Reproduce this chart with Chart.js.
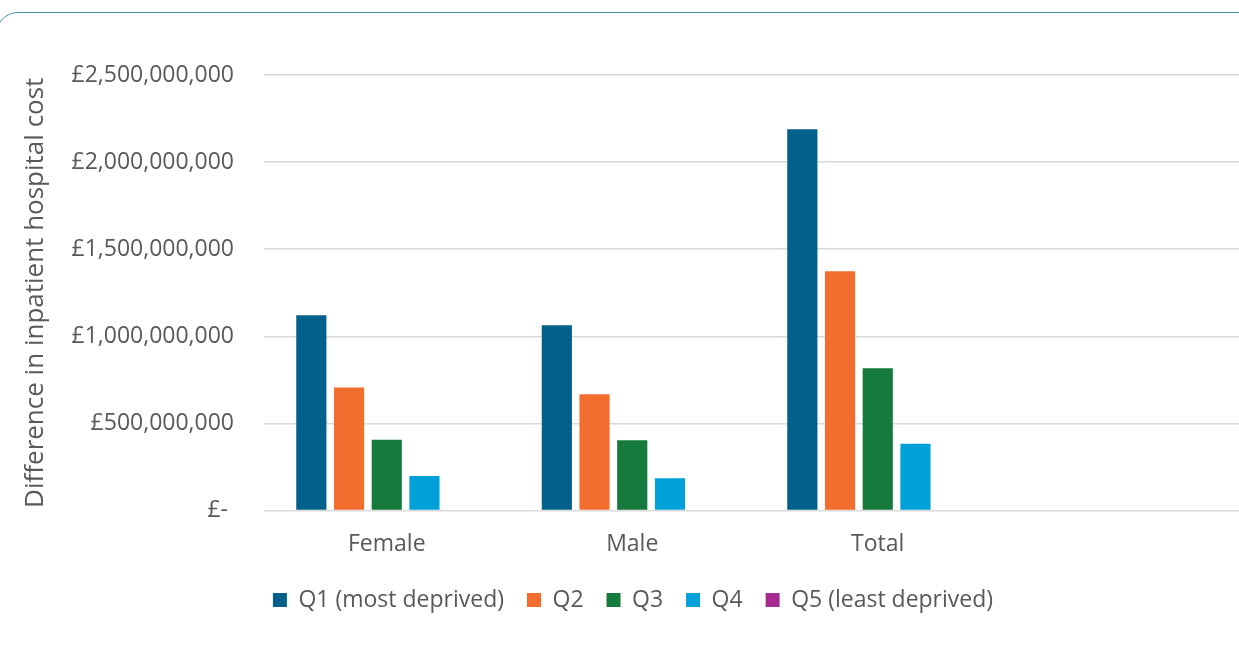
<!DOCTYPE html>
<html>
<head>
<meta charset="utf-8">
<script src="https://cdn.jsdelivr.net/npm/chart.js@4/dist/chart.umd.min.js"></script>
<style>
  html, body { margin: 0; padding: 0; background: #ffffff; overflow: hidden; }
  #wrap { position: relative; width: 1266px; height: 670px; }
  #frame {
    position: absolute; left: -4px; top: 12px; width: 1300px; height: 720px;
    border: 1.5px solid #4a93ad; border-radius: 22px; box-sizing: border-box;
    pointer-events: none;
  }
</style>
</head>
<body>
<div id="wrap">
  <canvas id="chart"></canvas>
  <div id="frame"></div>
</div>
<script>
// Groups along the x axis (last slot is an empty category)
const categories = ['Female', 'Male', 'Total', ''];

// Deprivation quintiles
const seriesNames = ['Q1 (most deprived)', 'Q2', 'Q3', 'Q4', 'Q5 (least deprived)'];
const seriesColors = ['#02618a', '#f36d2f', '#157a3c', '#00a0d9', '#a62b90'];

// Difference in inpatient hospital cost (£)
const q1Values = [1121000000, 1064000000, 2188000000, null];
const q2Values = [706000000, 668000000, 1373000000, null];
const q3Values = [406000000, 403000000, 817000000, null];
const q4Values = [198000000, 185000000, 383000000, null];
const q5Values = [0, 0, 0, null];

// Y axis ticks
const yTicks = [0, 500000000, 1000000000, 1500000000, 2000000000, 2500000000];

const seriesValues = [q1Values, q2Values, q3Values, q4Values, q5Values];
const FONT = '"Open Sans", "Liberation Sans", sans-serif';
const TEXT = '#595959';

function poundLabel(v) {
  if (v === 0) return '£- ';
  return '£' + Number(v).toLocaleString('en-GB');
}

new Chart(document.getElementById('chart'), {
  type: 'bar',
  data: {
    labels: categories,
    datasets: seriesNames.map((name, i) => ({
      label: name,
      data: seriesValues[i],
      backgroundColor: seriesColors[i],
      borderWidth: 0,
      categoryPercentage: 0.768,
      barPercentage: 0.8
    }))
  },
  options: {
    responsive: true,
    maintainAspectRatio: false,
    animation: false,
    layout: { padding: { left: 20, right: 20, top: 75, bottom: 48.5 } },
    plugins: {
      tooltip: { enabled: false },
      legend: {
        position: 'bottom',
        labels: {
          boxWidth: 14,
          boxHeight: 14,
          padding: 23,
          color: TEXT,
          font: { family: FONT, size: 23 }
        }
      }
    },
    scales: {
      x: {
        grid: { display: false },
        border: { display: false },
        ticks: { color: TEXT, font: { family: FONT, size: 23 }, padding: 12, maxRotation: 0 },
        afterFit: (scale) => { scale.height = 55; }
      },
      y: {
        min: 0,
        max: 2500000000,
        afterBuildTicks: (scale) => { scale.ticks = yTicks.map(v => ({ value: v })); },
        afterFit: (scale) => { scale.width = 244; },
        grid: { color: '#dadada', lineWidth: 1.6, drawTicks: false },
        border: { display: false },
        ticks: {
          color: TEXT,
          font: { family: FONT, size: 23 },
          padding: 30,
          callback: (v) => poundLabel(v)
        },
        title: {
          display: true,
          text: 'Difference in inpatient hospital cost',
          color: TEXT,
          font: { family: FONT, size: 26 },
          padding: { top: 0, bottom: 0 }
        }
      }
    }
  }
});
</script>
</body>
</html>
